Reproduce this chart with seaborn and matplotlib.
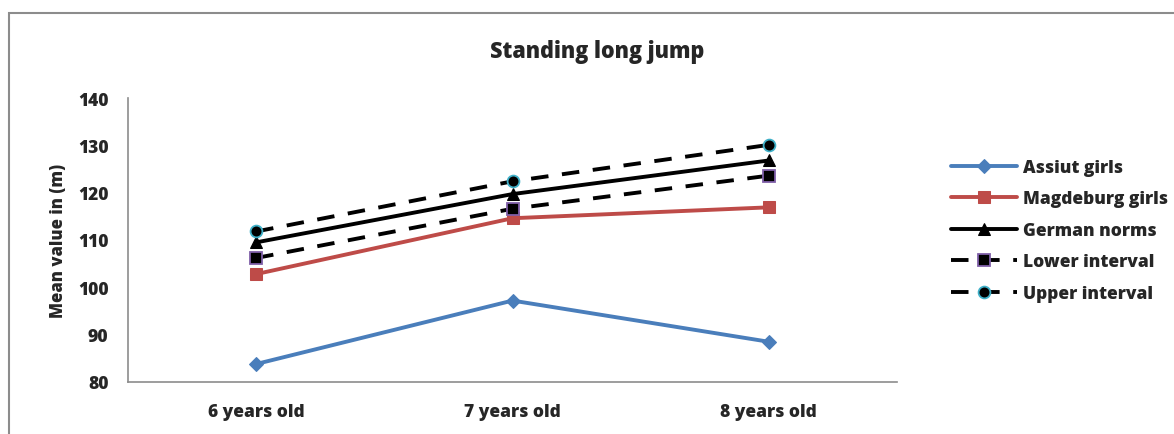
import matplotlib
matplotlib.use("Agg")
import matplotlib.pyplot as plt
import seaborn as sns
import pandas as pd
from matplotlib.patches import Rectangle

categories = ["6 years old", "7 years old", "8 years old"]
assiut = [83.8, 97.2, 88.5]
magdeburg = [102.8, 114.6, 116.9]
german = [109.5, 119.7, 126.8]
lower = [106.2, 116.6, 123.6]
upper = [111.8, 122.4, 130.1]
yticks = [80, 90, 100, 110, 120, 130, 140]

sns.set_theme(style="white")
plt.rcParams['font.family'] = ['Open Sans', 'DejaVu Sans']

fig = plt.figure(figsize=(11.74, 4.35), dpi=100)
fig.patches.append(Rectangle((9/1174, -0.1), 1.2, (435-14)/435 + 0.1, transform=fig.transFigure,
                             fill=False, edgecolor="#8c8c8c", linewidth=1.5, zorder=0))
ax = fig.add_axes([128/1174, (435-383)/435, (897-128)/1174, (383-99)/435])

lw = 2.8
series = [
    ("Assiut girls", assiut, dict(color="#4a7ebb", marker="D", markersize=7.5,
                                  markeredgecolor="#4a7ebb", linestyle="-")),
    ("Magdeburg girls", magdeburg, dict(color="#be4b48", marker="s", markersize=9,
                                        markeredgecolor="#be4b48", linestyle="-")),
    ("German norms", german, dict(color="black", marker="^", markersize=9,
                                  markeredgecolor="black", linestyle="-")),
    ("Lower interval", lower, dict(color="black", marker="s", markersize=8.5,
                                   markeredgecolor="#7f5fa8", markeredgewidth=1.3,
                                   linestyle=(0, (4.5, 3.5)))),
    ("Upper interval", upper, dict(color="black", marker="o", markersize=8.5,
                                   markeredgecolor="#3fb0c8", markeredgewidth=1.3,
                                   linestyle=(0, (4.5, 3.5)))),
]
for name, vals, kw in series:
    df = pd.DataFrame({"cat": categories, "val": vals})
    ls = kw.pop("linestyle")
    sns.lineplot(data=df, x="cat", y="val", ax=ax, label=name, sort=False,
                 linewidth=lw, linestyle=ls, **kw)

ax.set_xlim(-0.5, 2.5)
ax.set_ylim(80, 140)
ax.set_yticks(yticks)
ax.set_yticklabels([str(t) for t in yticks], fontsize=12.5, fontweight="heavy")
ax.set_xticks(range(len(categories)))
ax.set_xticklabels(categories, fontsize=12.5, fontweight="heavy")
ax.tick_params(axis="y", pad=14, length=0)
ax.tick_params(axis="x", pad=15, length=0)
ax.set_xlabel("")
ax.set_ylabel("Mean value in (m)", fontsize=12, fontweight="heavy", labelpad=8)
for s in ["top", "right"]:
    ax.spines[s].set_visible(False)
for s in ["left", "bottom"]:
    ax.spines[s].set_color("#8c8c8c")
    ax.spines[s].set_linewidth(1.2)

fig.text(597/1174, 1 - 52/435, "Standing long jump", ha="center", va="center",
         fontsize=15.5, fontweight="heavy")

leg = ax.legend(loc="upper left", bbox_to_anchor=(944/1174, 1 - 153/435),
                bbox_transform=fig.transFigure, frameon=False,
                prop={"size": 12.5, "weight": "heavy"}, handlelength=3.8,
                labelspacing=0.83, handletextpad=0.35, borderaxespad=0)
fig.savefig("out.png", dpi=100)
